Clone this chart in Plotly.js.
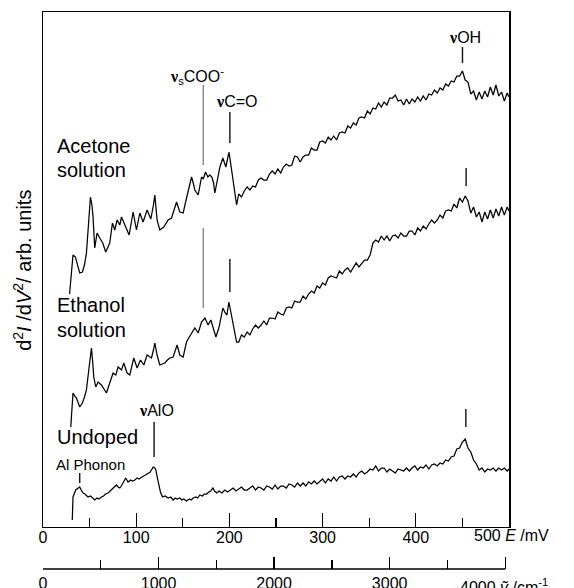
<!DOCTYPE html>
<html>
<head>
<meta charset="utf-8">
<script src="https://cdn.plot.ly/plotly-3.0.1.min.js"></script>
<style>html,body{margin:0;padding:0;background:#fff;}#chart{width:574px;height:588px;}</style>
</head>
<body>
<div id="chart"></div>
<script>
// ---- DATA (E in mV, signal in arb. units) ----
const acetone = [[28.5,233],[32.2,272],[34.8,270],[37,262],[39.4,254],[42.3,255],[44.5,262],[46.6,274],[48.5,300],[50.9,330],[52.5,322],[53.7,310],[55.5,279],[58.0,294],[60.9,289],[64.1,284],[67.3,275],[69.5,280],[71.6,284],[74.5,304],[77.0,297],[79.5,307],[82.4,302],[84.2,310],[86.5,305],[88.8,299],[92.4,292],[96.7,315],[100.3,297],[103.9,314],[107.4,305],[111.7,317],[115.7,308],[118.5,322],[120.0,332],[122.4,307],[125.3,297],[129.6,300],[132,303],[134.3,307],[137.9,309],[140.5,318],[143.3,325],[146.8,315],[150.4,314],[153,325],[155.7,337],[159.4,350],[161.5,343],[162.9,337],[166.5,332],[168.5,343],[170.1,350],[172,348],[174.4,355],[176.9,350],[179,352],[181.2,350],[183,344],[184.4,334],[187,347],[189.8,360],[193.0,369],[196.2,360],[198,368],[199.5,375],[201,366],[202.7,354],[205.9,330],[207.7,322],
[210,333],[213,330],[216,336],[219,340],[222,337],[225,341],[228,340],[231,347],[234,349],[237,347],[240,347],[243,353],[246,356],[249,353],[252,358],[255,354],[258,360],[261,363],[264,361],[267,362],[270,371],[273,370],[276,365],[279,370],[282,372],[285,372],[288,379],[291,377],[294,377],[297,385],[300,386],[303,384],[306,390],[309,387],[312,391],[315,387],[318,394],[321,395],[324,394],[327,401],[330,399],[333,404],[336,402],[339,409],[342,410],[345,409],[348,416],[351,413],[354,419],[357,418],[360,424],[363,420],[366,425],[369,422],[372,429],[375,429],[378,432],[381,426],[384,427],[387,422],[390,428],[393,423],[396,428],[399,425],[402,430],[405,426],[408,431],[411,427],[414,433],[417,432],[420,437],[423,434],[426,439],[429,437],[432,443],[435,441],[438,446],[441,445],[444,451],[447,451],[450,456],[453,447],[456,445],[459,433],[462,436],[465,427],[468,435],[471,428],[474,436],[477,430],[480,440],[483,432],[486,442],[489,431],[492,435],[495,426],[498,434],[500,430]];

const ethanol = [[29.8,100],[32.2,134],[34,131],[35.9,129],[39.4,120],[42.3,124],[44.5,130],[46.6,137],[49.5,160],[52.0,179],[53.3,165],[54.5,150],[56.6,140],[59.1,145],[62.7,142],[65.5,138],[68.1,134],[71.6,144],[75.2,154],[78.1,152],[80.6,160],[84.2,157],[86.7,164],[90.2,154],[93.1,152],[97.4,169],[101.0,159],[104.6,167],[108.2,162],[111.7,172],[116.4,169],[118.5,177],[120.0,184],[122.4,172],[125.3,162],[128,163],[130.7,164],[133.5,167],[136.1,169],[139.6,170],[143.9,182],[146.8,172],[150.4,170],[152.3,178],[154.0,185],[157,190],[159.4,194],[162.9,199],[166.5,194],[168.5,200],[170.1,205],[173.7,209],[177.2,202],[180.1,207],[182.3,200],[185.5,190],[188.7,199],[191,210],[193.0,219],[195.5,214],[197.3,212],[199.5,225],[201.5,215],[203.8,204],[205.8,193],[207.7,185],
[210,185],[213,192],[216,190],[219,195],[222,192],[225,198],[228,202],[231,199],[234,202],[237,206],[240,202],[243,209],[246,209],[249,208],[252,215],[255,213],[258,212],[261,219],[264,220],[267,219],[270,226],[273,225],[276,225],[279,231],[282,228],[285,233],[288,236],[291,234],[294,241],[297,239],[300,244],[303,242],[306,249],[309,251],[312,250],[315,249],[318,256],[321,253],[324,257],[327,259],[330,255],[333,260],[336,264],[339,260],[342,264],[345,267],[348,267],[351,272],[354,284],[357,287],[360,285],[363,291],[366,287],[369,291],[372,286],[375,291],[378,292],[381,289],[384,294],[387,291],[390,291],[393,296],[396,296],[399,292],[402,299],[405,296],[408,301],[411,298],[414,303],[417,307],[420,304],[423,307],[426,312],[429,309],[432,316],[435,317],[438,316],[441,323],[444,319],[447,329],[450,325],[453,331],[456,326],[459,314],[462,320],[465,310],[468,315],[471,305],[474,315],[477,308],[480,317],[483,309],[486,318],[489,311],[492,320],[495,312],[498,320],[500,316]];

const undoped = [[31.4,7],[32.2,30],[35.1,37],[37,38],[39.4,40],[41,37],[43,34],[45,33],[48.3,30],[51,31],[53,29],[55.5,27],[58,29],[60,28],[62.7,30],[65,31],[67,33],[69.8,34],[72,36],[75.2,39],[77,41],[78.8,42],[80.5,40],[82.4,39],[84,41],[86,44],[88.8,49],[90,47],[91.3,45],[94,47],[96,46],[98.5,47],[101,49],[103,48],[105.7,50],[108,51],[110,52],[112.8,54],[115,55],[117,58],[118.2,60],[120,59],[121.1,57],[122.5,50],[124.6,40],[126,35],[128.2,30],[131,31],[134.3,29],[137,30],[139.6,27],[142,29],[144,28],[146.8,29],[149,27],[151,28],[154,26],[157,28],[159,27],[161.1,29],[164,30],[166,29],[168.3,32],[171,31],[173,33],[175.5,33],[178,35],[180,36],[182.3,39],[184,36],[186.6,34],
[189,36],[192,34],[195,37],[198,35],[201,37],[204,39],[207,36],[210,38],[213,40],[216,37],[219,37],[222,39],[225,41],[228,37],[231,40],[234,39],[237,37],[240,41],[243,40],[246,38],[249,42],[252,38],[255,41],[258,41],[261,39],[264,43],[267,42],[270,40],[273,44],[276,41],[279,44],[282,41],[285,45],[288,43],[291,46],[294,43],[297,46],[300,48],[303,44],[306,48],[309,46],[312,50],[315,46],[318,50],[321,51],[324,48],[327,51],[330,50],[333,53],[336,50],[339,54],[342,56],[345,53],[348,55],[351,58],[354,57],[357,61],[360,56],[363,59],[366,59],[369,55],[372,58],[375,56],[378,54],[381,58],[384,57],[387,56],[390,59],[393,56],[396,59],[399,61],[402,57],[405,60],[408,59],[411,62],[414,58],[417,62],[420,63],[423,61],[426,64],[429,63],[432,67],[435,66],[438,70],[441,71],[444,78],[447,79],[450,85],[453,88],[456,79],[459,75],[462,67],[465,63],[468,57],[471,59],[474,55],[477,58],[480,57],[483,59],[486,56],[489,59],[492,57],[495,59],[498,56],[500,58]];

// peak marker bars: [E, yFrom, yTo]
const markers = [[171.9,362,442],[200.5,384,415],[171.9,219,299],[200.5,235,268],[450.1,464,480],[454.0,341,359],[453.7,100,118],[119.2,70,105],[39.4,44,54]];
const markerGray = [true,false,true,false,false,false,false,false,false];

const eTicks = [0,100,200,300,400,500];
const eTickText = ['0','100','200','300','400',''];
const wnTicks = [0,1000,2000,3000,4000];
const wnTickText = ['0','1000','2000','3000',''];
const CM_PER_MEV = 8.06554;

// ---- PLOT ----
const FONT = 'Liberation Sans, Arial, Helvetica, sans-serif';
const NU = '<span style="font-family:Liberation Serif, Times New Roman, serif"><b>ν</b></span>';
function tr(d){return {x:d.map(p=>p[0]), y:d.map(p=>p[1]), mode:'lines', line:{color:'#000', width:1.25}, hoverinfo:'skip', showlegend:false};}
const traces = [tr(acetone), tr(ethanol), tr(undoped),
  {x:[0,4000], y:[null,null], xaxis:'x2', yaxis:'y', mode:'lines', showlegend:false, hoverinfo:'skip'}];

const shapes = markers.map((m,i)=>({type:'line', xref:'x', yref:'y', x0:m[0], x1:m[0], y0:m[1], y1:m[2],
  line:{color: markerGray[i] ? '#555' : '#111', width: markerGray[i] ? 1 : 1.4}}));
shapes.push({type:'line', xref:'paper', yref:'paper', x0:0, x1:4000/(500*CM_PER_MEV), y0:0, y1:0, line:{color:'#000', width:1.4}});

function ann(text,x,y,size,extra){return Object.assign({text:text, x:x, y:y, xref:'x', yref:'y', xanchor:'left', yanchor:'middle', showarrow:false, font:{family:FONT, size:size, color:'#000'}}, extra||{});}
const annotations = [
  ann('Acetone',12.8,380.7,20), ann('solution',12.8,357.3,20),
  ann('Ethanol',12.8,221.7,20), ann('solution',12.8,197.3,20),
  ann('Undoped',12.8,90,20), ann('Al Phonon',11.8,63,15),
  ann(NU+'AlO',100.5,116.6,16),
  ann(NU+'<sub>s</sub>COO<sup>-</sup>',134.1,450.6,16),
  ann(NU+'C=O',183.5,425.9,16),
  ann(NU+'OH',433.2,489.9,16),
  ann('500 <i>E</i> /mV',0.92,0.0594,16,{xref:'paper',yref:'paper'}),
  ann('4000 <i>ṽ</i> /cm<sup>-1</sup>',0.89,-0.031,16,{xref:'paper',yref:'paper'}),
  {text:'d<sup>2</sup><i>I</i> /d<i>V</i><sup>2</sup>/ arb. units', xref:'paper', yref:'paper', x:-0.043, y:0.537, textangle:-90, xanchor:'center', yanchor:'middle', showarrow:false, font:{family:FONT, size:20, color:'#000'}}
];

const layout = {
  width:574, height:588, margin:{l:43, r:65, t:12, b:19},
  paper_bgcolor:'#fff', plot_bgcolor:'#fff', showlegend:false,
  font:{family:FONT, size:16, color:'#000'},
  xaxis:{range:[0,500], tickmode:'array', tickvals:eTicks, ticktext:eTickText, ticks:'inside', ticklen:14, tickwidth:1.3, tickcolor:'#000',
    minor:{tickmode:'linear', tick0:0, dtick:50, ticks:'inside', ticklen:9, tickwidth:1.3, tickcolor:'#000', showgrid:false},
    showline:true, linewidth:1.5, linecolor:'#000', mirror:true, showgrid:false, zeroline:false, tickfont:{family:FONT, size:16, color:'#000'}, ticklabelstandoff:-4},
  xaxis2:{overlaying:'x', anchor:'free', position:0, side:'bottom', range:[0,500*CM_PER_MEV], tickmode:'array', tickvals:wnTicks, ticktext:wnTickText,
    ticks:'inside', ticklen:12, tickwidth:1.3, tickcolor:'#000',
    minor:{tickmode:'linear', tick0:0, dtick:500, ticks:'inside', ticklen:9, tickwidth:1.3, tickcolor:'#000', showgrid:false},
    showline:false, showgrid:false, zeroline:false, tickfont:{family:FONT, size:16, color:'#000'}, ticklabelstandoff:3},
  yaxis:{domain:[0.0763,1], range:[0.5,515], showline:true, linewidth:1.5, linecolor:'#000', mirror:true, ticks:'', showticklabels:false, showgrid:false, zeroline:false},
  shapes:shapes, annotations:annotations
};
Plotly.newPlot('chart', traces, layout, {staticPlot:true, displayModeBar:false});
</script>
</body>
</html>
